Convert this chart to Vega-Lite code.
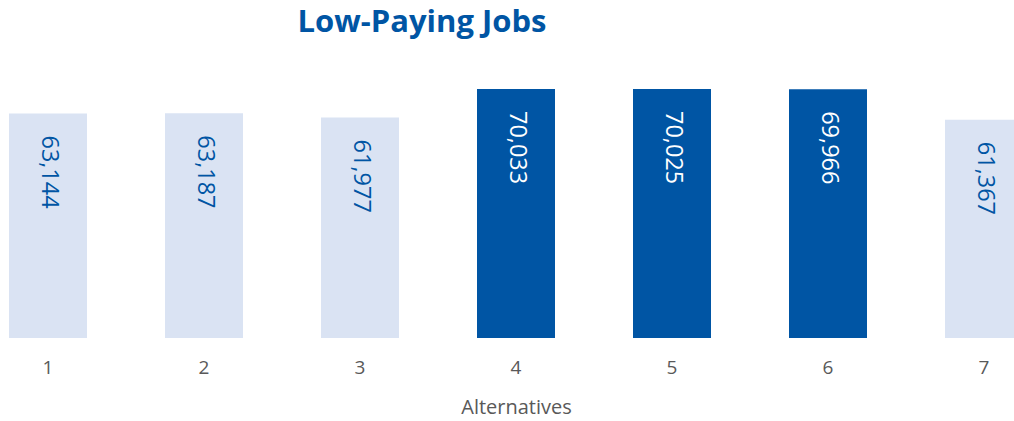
{
  "$schema": "https://vega.github.io/schema/vega-lite/v6.json",
  "autosize": "none",
  "width": 1014,
  "height": 284.5,
  "padding": {"top": 53.5, "left": 0, "right": 0, "bottom": 83},
  "background": "white",
  "config": {"view": {"stroke": null}, "font": "Open Sans"},
  "title": {
    "text": "Low-Paying Jobs",
    "font": "Open Sans",
    "fontSize": 31,
    "fontWeight": "bold",
    "color": "#0055A4",
    "anchor": "middle",
    "dx": -85,
    "offset": 15
  },
  "data": {
    "values": [
      {"alt": "1", "jobs": 63144},
      {"alt": "2", "jobs": 63187},
      {"alt": "3", "jobs": 61977},
      {"alt": "4", "jobs": 70033},
      {"alt": "5", "jobs": 70025},
      {"alt": "6", "jobs": 69966},
      {"alt": "7", "jobs": 61367}
    ]
  },
  "encoding": {
    "x": {
      "field": "alt",
      "type": "nominal",
      "sort": null,
      "scale": {"range": [-30, 1062], "paddingInner": 0.5, "paddingOuter": 0.25},
      "axis": {
        "title": "Alternatives",
        "titleFont": "Open Sans",
        "titleFontSize": 20,
        "titleFontWeight": "normal",
        "titleColor": "#595959",
        "titlePadding": 20,
        "labelFont": "Open Sans",
        "labelFontSize": 19,
        "labelColor": "#595959",
        "labelAngle": 0,
        "labelPadding": 20,
        "domain": false,
        "ticks": false,
        "grid": false
      }
    },
    "y": {
      "field": "jobs",
      "type": "quantitative",
      "scale": {"domain": [0, 80000]},
      "axis": null
    }
  },
  "layer": [
    {
      "mark": {"type": "bar"},
      "encoding": {
        "color": {
          "condition": {"test": "datum.jobs > 65000", "value": "#0055A4"},
          "value": "#DAE3F3"
        }
      }
    },
    {
      "mark": {
        "type": "text",
        "angle": 90,
        "align": "left",
        "baseline": "middle",
        "dx": 22,
        "dy": -1,
        "font": "Open Sans",
        "fontSize": 23.5
      },
      "encoding": {
        "text": {"field": "jobs", "type": "quantitative", "format": ","},
        "color": {
          "condition": {"test": "datum.jobs > 65000", "value": "#FFFFFF"},
          "value": "#0055A4"
        }
      }
    }
  ]
}
